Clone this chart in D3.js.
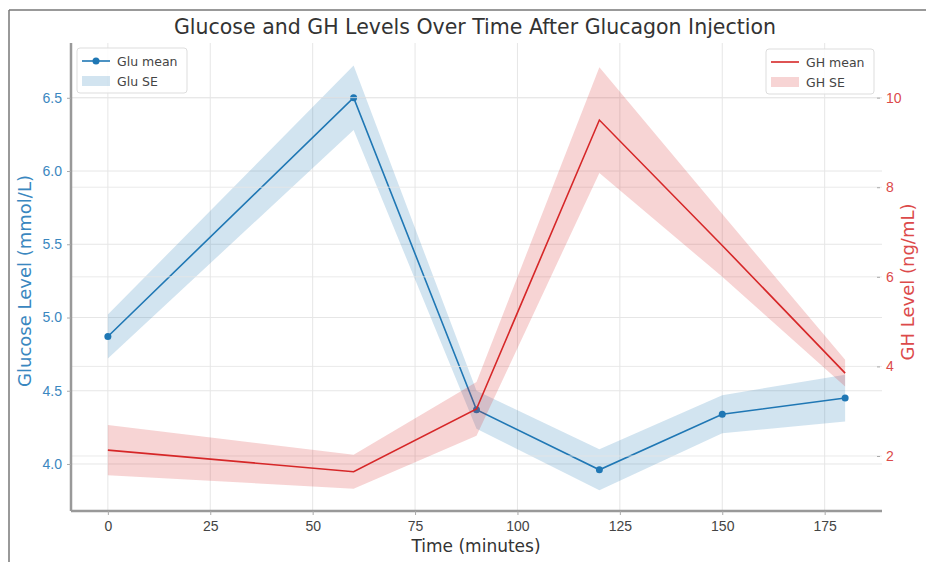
<!DOCTYPE html>
<html>
<head>
<meta charset="utf-8">
<script src="https://cdn.jsdelivr.net/npm/d3@7"></script>
<style>
  body { margin: 0; background: #fff; }
  svg { font-family: "DejaVu Sans", sans-serif; }
</style>
</head>
<body>
<svg id="chart"></svg>
<script>
// data
var times = [0, 60, 90, 120, 150, 180];
var gluMean = [4.87, 6.50, 4.37, 3.96, 4.34, 4.45];
var gluSE = [0.15, 0.22, 0.13, 0.14, 0.13, 0.16];
var ghMean = [2.13, 1.65, 3.05, 9.50, 6.70, 3.85];
var ghSE = [0.56, 0.38, 0.60, 1.18, 0.70, 0.30];

var xTicks = [0, 25, 50, 75, 100, 125, 150, 175];
var gluTicks = [4.0, 4.5, 5.0, 5.5, 6.0, 6.5];
var ghTicks = [2, 4, 6, 8, 10];

var W = 926, H = 562;
var axL = 71, axR = 882, axT = 43, axB = 511;
var blue = "#1f77b4", red = "#d62728";

var svg = d3.select("#chart").attr("width", W).attr("height", H);

// outer frame (top & left only)
svg.append("line").attr("x1", 9).attr("x2", W).attr("y1", 10).attr("y2", 10)
  .attr("stroke", "#777").attr("stroke-width", 1.5);
svg.append("line").attr("x1", 9).attr("x2", 9).attr("y1", 10).attr("y2", H)
  .attr("stroke", "#777").attr("stroke-width", 1.5);

var x = d3.scaleLinear().domain([-9, 189]).range([axL, axR]);
var yG = d3.scaleLinear().domain([3.679, 6.874]).range([axB, axT]);
var yH = d3.scaleLinear().domain([0.772, 11.22]).range([axB, axT]);

var gluRows = times.map(function(t, i) { return {t: t, m: gluMean[i], se: gluSE[i]}; });
var ghRows = times.map(function(t, i) { return {t: t, m: ghMean[i], se: ghSE[i]}; });

// grid
var grid = svg.append("g").attr("stroke", "#e6e6e6").attr("stroke-width", 1);
grid.selectAll(".gx").data(xTicks).enter().append("line")
  .attr("x1", function(d) { return x(d); }).attr("x2", function(d) { return x(d); })
  .attr("y1", axT).attr("y2", axB);
grid.selectAll(".gy").data(gluTicks).enter().append("line")
  .attr("x1", axL).attr("x2", axR)
  .attr("y1", function(d) { return yG(d); }).attr("y2", function(d) { return yG(d); });

// glucose band + line
svg.append("path").datum(gluRows)
  .attr("fill", blue).attr("fill-opacity", 0.2)
  .attr("d", d3.area().x(function(d) { return x(d.t); })
    .y0(function(d) { return yG(d.m - d.se); })
    .y1(function(d) { return yG(d.m + d.se); }));
svg.append("path").datum(gluRows)
  .attr("fill", "none").attr("stroke", blue).attr("stroke-width", 1.6)
  .attr("d", d3.line().x(function(d) { return x(d.t); }).y(function(d) { return yG(d.m); }));
svg.selectAll(".gdot").data(gluRows).enter().append("circle")
  .attr("cx", function(d) { return x(d.t); })
  .attr("cy", function(d) { return yG(d.m); })
  .attr("r", 3.5).attr("fill", blue);

// GH grid (twin axis)
grid = svg.append("g").attr("stroke", "#e6e6e6").attr("stroke-width", 1).attr("opacity", 0.8);
grid.selectAll(".hy").data(ghTicks).enter().append("line")
  .attr("x1", axL).attr("x2", axR)
  .attr("y1", function(d) { return yH(d); }).attr("y2", function(d) { return yH(d); });

// GH band + line
svg.append("path").datum(ghRows)
  .attr("fill", red).attr("fill-opacity", 0.2)
  .attr("d", d3.area().x(function(d) { return x(d.t); })
    .y0(function(d) { return yH(d.m - d.se); })
    .y1(function(d) { return yH(d.m + d.se); }));
svg.append("path").datum(ghRows)
  .attr("fill", "none").attr("stroke", red).attr("stroke-width", 1.6)
  .attr("d", d3.line().x(function(d) { return x(d.t); }).y(function(d) { return yH(d.m); }));

// axes
var xAxis = svg.append("g").attr("transform", "translate(0," + axB + ")")
  .call(d3.axisBottom(x).tickValues(xTicks).tickSize(4).tickPadding(6));
var gAxis = svg.append("g").attr("transform", "translate(" + axL + ",0)")
  .call(d3.axisLeft(yG).tickValues(gluTicks).tickFormat(d3.format(".1f")).tickSize(4).tickPadding(5));
var hAxis = svg.append("g").attr("transform", "translate(" + (axR - 5) + ",0)")
  .call(d3.axisRight(yH).tickValues(ghTicks).tickSize(3).tickPadding(6));

[xAxis, gAxis, hAxis].forEach(function(a) {
  a.selectAll(".tick line").attr("stroke", "#aaa");
  a.selectAll("text").attr("font-size", 14);
});
xAxis.selectAll("text").attr("fill", "#444");
gAxis.selectAll("text").attr("fill", "#3a87c0");
hAxis.selectAll("text").attr("fill", "#dc4a4a");
hAxis.select(".domain").remove();
xAxis.select(".domain").attr("stroke", "#999").attr("stroke-width", 2.5)
  .attr("d", "M" + axL + ",0H" + axR);
gAxis.select(".domain").attr("stroke", "#999").attr("stroke-width", 2.5)
  .attr("d", "M0," + axT + "V" + axB);

// titles
svg.append("text").attr("x", 475).attr("y", 34).attr("text-anchor", "middle")
  .attr("font-size", 20.5).attr("fill", "#333")
  .text("Glucose and GH Levels Over Time After Glucagon Injection");
svg.append("text").attr("x", 476).attr("y", 552).attr("text-anchor", "middle")
  .attr("font-size", 17).attr("fill", "#333").text("Time (minutes)");
svg.append("text").attr("transform", "translate(31,281) rotate(-90)")
  .attr("text-anchor", "middle").attr("font-size", 18).attr("fill", "#3a87c0")
  .text("Glucose Level (mmol/L)");
svg.append("text").attr("transform", "translate(914,282) rotate(-90)")
  .attr("text-anchor", "middle").attr("font-size", 18).attr("fill", "#dc4a4a")
  .text("GH Level (ng/mL)");

// legends
function legend(x0, y0, w, color, labels, marker) {
  var g = svg.append("g").attr("transform", "translate(" + x0 + "," + y0 + ")");
  g.append("rect").attr("width", w).attr("height", 45).attr("rx", 3)
    .attr("fill", "#fff").attr("fill-opacity", 0.85).attr("stroke", "#ddd");
  g.append("line").attr("x1", 5).attr("x2", 33).attr("y1", 13).attr("y2", 13)
    .attr("stroke", color).attr("stroke-width", 1.6);
  if (marker) g.append("circle").attr("cx", 19).attr("cy", 13).attr("r", 3.5).attr("fill", color);
  g.append("rect").attr("x", 5).attr("y", 28).attr("width", 28).attr("height", 10)
    .attr("fill", color).attr("fill-opacity", 0.2);
  g.append("text").attr("x", 40).attr("y", 17.5).attr("font-size", 12.5).attr("fill", "#444").text(labels[0]);
  g.append("text").attr("x", 40).attr("y", 37.5).attr("font-size", 12.5).attr("fill", "#444").text(labels[1]);
}
legend(77, 48, 110, blue, ["Glu mean", "Glu SE"], true);
legend(766, 49, 108, red, ["GH mean", "GH SE"], false);
</script>
</body>
</html>
